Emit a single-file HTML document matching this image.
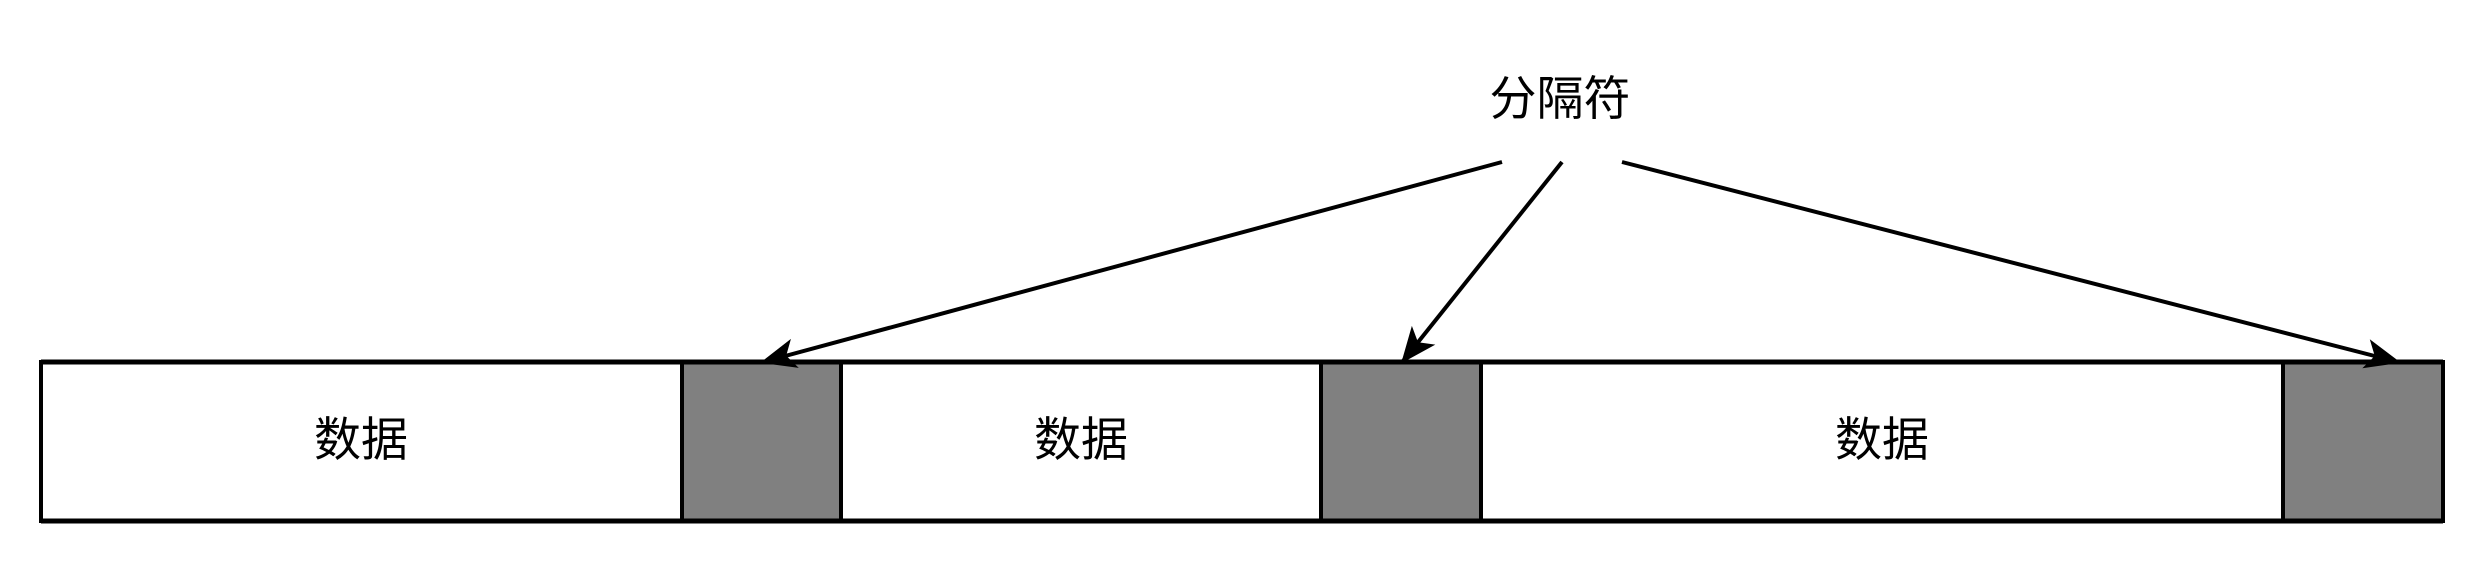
<!DOCTYPE html>
<html><head><meta charset="utf-8"><style>
html,body{margin:0;padding:0;background:#fff;width:2484px;height:564px;overflow:hidden}
text{font-family:"Liberation Sans","Noto Sans CJK SC",sans-serif;font-size:47px;fill:#000}
</style></head><body>
<svg width="2484" height="564" viewBox="0 0 2484 564">
<defs>
<marker id="ah" viewBox="0 0 12 10" refX="11" refY="5" markerWidth="12" markerHeight="10" markerUnits="userSpaceOnUse" orient="auto" style="overflow:visible">
<path d="M0,0 L12,5 L0,10 L3,5 Z" fill="#000" transform="scale(3)" transform-origin="11 5"/>
</marker>
</defs>
<g>
<rect x="41" y="362" width="641" height="159" fill="#fff" stroke="#000" stroke-width="4"/>
<rect x="682" y="362" width="159" height="159" fill="#808080" stroke="#000" stroke-width="4"/>
<rect x="841" y="362" width="480" height="159" fill="#fff" stroke="#000" stroke-width="4"/>
<rect x="1321" y="362" width="160" height="159" fill="#808080" stroke="#000" stroke-width="4"/>
<rect x="1481" y="362" width="802" height="159" fill="#fff" stroke="#000" stroke-width="4"/>
<rect x="2283" y="362" width="160" height="159" fill="#808080" stroke="#000" stroke-width="4"/>
<line x1="41" y1="362" x2="2443" y2="362" stroke="#000" stroke-width="5"/>
<line x1="41" y1="521" x2="2443" y2="521" stroke="#000" stroke-width="5"/>
<text x="361" y="456" text-anchor="middle">数据</text>
<text x="1081" y="456" text-anchor="middle">数据</text>
<text x="1882" y="456" text-anchor="middle">数据</text>
</g>
<text x="1560" y="115" text-anchor="middle">分隔符</text>
<line x1="1502" y1="162" x2="763" y2="362" stroke="#000" stroke-width="4" marker-end="url(#ah)"/>
<line x1="1562" y1="162" x2="1403" y2="361" stroke="#000" stroke-width="4" marker-end="url(#ah)"/>
<line x1="1622" y1="162" x2="2398" y2="362" stroke="#000" stroke-width="4" marker-end="url(#ah)"/>
</svg>
</body></html>
